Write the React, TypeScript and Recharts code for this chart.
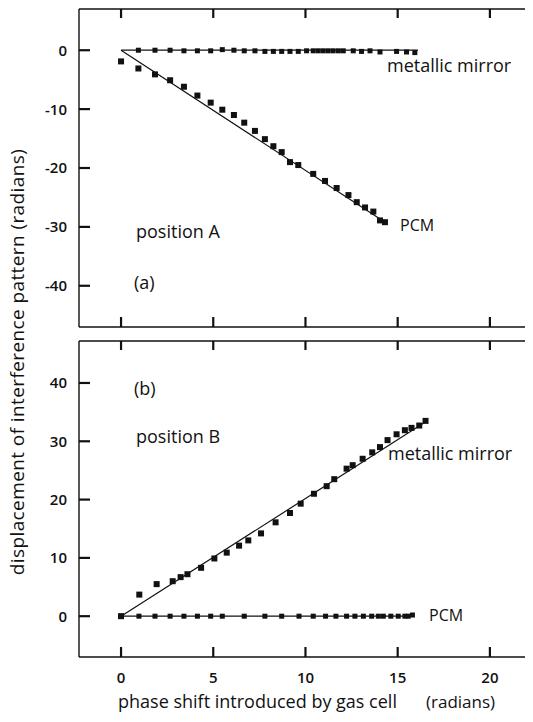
import React from 'react'
import { ComposedChart, Scatter, XAxis, YAxis, ReferenceLine } from 'recharts'

// x axis (phase shift, radians)
const X_DOMAIN: [number, number] = [-2.28, 22.5]
const X_TICKS = [0, 5, 10, 15, 20]
const TOP_Y_DOMAIN: [number, number] = [-47, 7]
const TOP_Y_TICKS = [0, -10, -20, -30, -40]
const BOT_Y_DOMAIN: [number, number] = [-7, 47.2]
const BOT_Y_TICKS = [0, 10, 20, 30, 40]

// (a) position A
const A_MIRROR_X = [0.94, 1.84, 2.66, 3.41, 4.14, 4.86, 5.49, 6.12, 6.68, 7.26, 7.8, 8.26, 8.71, 9.16, 9.61, 10.06, 10.42, 10.69, 10.96, 11.23, 11.5, 11.78, 12.05, 12.59, 13.04, 13.5, 14.04, 14.94, 15.48, 15.93]
const A_MIRROR_Y = [0, 0, 0, -0.1, -0.1, -0.1, 0.1, 0, -0.1, -0.1, -0.2, -0.2, -0.2, -0.2, -0.2, -0.1, -0.1, -0.1, -0.1, -0.1, -0.1, -0.1, -0.1, -0.1, -0.2, -0.1, -0.3, -0.2, -0.3, -0.4]
const A_PCM_X = [0, 0.94, 1.84, 2.66, 3.41, 4.14, 4.86, 5.49, 6.12, 6.68, 7.26, 7.8, 8.26, 8.71, 9.16, 9.61, 10.42, 11.06, 11.69, 12.33, 12.78, 13.23, 13.68, 14.04, 14.31]
const A_PCM_Y = [-1.9, -3.1, -4.1, -5.1, -6.2, -7.7, -8.9, -10.1, -11.0, -12.3, -13.7, -15.1, -16.3, -17.3, -19.0, -19.5, -21.0, -22.2, -23.4, -24.6, -25.8, -26.7, -27.4, -28.9, -29.2]
const A_MIRROR_FIT_X = [0, 16.1]
const A_MIRROR_FIT_Y = [0, 0]
const A_PCM_FIT_X = [0, 14.4]
const A_PCM_FIT_Y = [0, -29.4]

// (b) position B
const B_MIRROR_X = [0, 0.99, 1.93, 2.8, 3.23, 3.6, 4.34, 5.06, 5.73, 6.4, 6.9, 7.59, 8.38, 9.16, 9.74, 10.46, 11.15, 11.56, 12.23, 12.56, 13.1, 13.62, 14.04, 14.45, 14.94, 15.39, 15.75, 16.17, 16.51]
const B_MIRROR_Y = [0, 3.7, 5.5, 6.0, 6.7, 7.2, 8.3, 9.9, 10.9, 12.1, 13.0, 14.2, 16.1, 17.7, 19.3, 21.0, 22.3, 23.5, 25.3, 25.9, 27.0, 28.1, 29.0, 30.2, 31.2, 31.9, 32.3, 32.7, 33.5]
const B_PCM_X = [0, 0.97, 1.84, 2.66, 3.41, 4.14, 4.86, 5.49, 6.68, 7.8, 8.71, 9.65, 10.42, 11.09, 11.65, 12.23, 12.68, 13.14, 13.59, 13.95, 14.22, 14.63, 15.03, 15.39, 15.57, 15.8]
const B_PCM_Y = [0, 0, 0, 0, 0, 0, 0, 0, 0, 0, 0, 0, 0, 0, 0, 0, 0, 0, 0, 0, 0, 0, 0, 0, 0, 0.2]
const B_MIRROR_FIT_X = [0, 16.5]
const B_MIRROR_FIT_Y = [0, 33.3]
const B_PCM_FIT_X = [0, 15.8]
const B_PCM_FIT_Y = [0, 0]

const zip = (xs: number[], ys: number[]) => xs.map((x, i) => ({ x, y: ys[i] }))

const FONT = '"Open Sans", sans-serif'
const INK = '#111'
const PLOT_W = 457

const square = (size: number) => (props: any) => {
  const { cx, cy } = props
  if (cx == null || cy == null) return <g />
  return <rect x={cx - size / 2} y={cy - size / 2} width={size} height={size} fill={INK} />
}
const noDot = () => <g />

const labelStyle = { fontFamily: FONT, fontSize: 15, fontWeight: 600, fill: INK }
const leftLabel = (props: any) => (
  <text x={props.x - 12} y={props.y} dy="0.36em" textAnchor="end" style={labelStyle}>{props.payload.value}</text>
)
const bottomLabel = (props: any) => (
  <text x={props.x} y={props.y + 26} textAnchor="middle" style={labelStyle}>{props.payload.value}</text>
)

interface PanelProps {
  top: number
  height: number
  topAxisH: number
  bottomAxisH: number
  yDomain: [number, number]
  yTicks: number[]
  xLabels: boolean
  points: { x: number; y: number }[][]
  pointSizes: number[]
  fits: { x: number; y: number }[][]
}

const Panel = ({ top, height, topAxisH, bottomAxisH, yDomain, yTicks, xLabels, points, pointSizes, fits }: PanelProps) => {
  const axisStroke = { stroke: INK, strokeWidth: 1.4 }
  // inward tick marks as short segments from the frame, lengths given in pixels
  const ux = (X_DOMAIN[1] - X_DOMAIN[0]) / PLOT_W
  const uy = (yDomain[1] - yDomain[0]) / (height - topAxisH - bottomAxisH)
  const segs: { x: number; y: number }[][] = [
    ...yTicks.map(y => [{ x: X_DOMAIN[0], y }, { x: X_DOMAIN[0] + 11 * ux, y }]),
    ...yTicks.map(y => [{ x: X_DOMAIN[1], y }, { x: X_DOMAIN[1] - 8 * ux, y }]),
    ...X_TICKS.map(x => [{ x, y: yDomain[1] }, { x, y: yDomain[1] - 9 * uy }]),
    ...X_TICKS.map(x => [{ x, y: yDomain[0] }, { x, y: yDomain[0] + 10 * uy }]),
  ]
  return (
    <div style={{ position: 'absolute', left: 0, top }}>
      <ComposedChart width={540} height={height} margin={{ top: 0, right: 0, bottom: 0, left: 0 }}>
        <XAxis xAxisId="t" orientation="top" type="number" dataKey="x" domain={X_DOMAIN} ticks={X_TICKS}
          allowDataOverflow height={topAxisH} axisLine={axisStroke} tickLine={false} tick={false} />
        <XAxis xAxisId="b" orientation="bottom" type="number" dataKey="x" domain={X_DOMAIN} ticks={X_TICKS}
          allowDataOverflow height={bottomAxisH} tickSize={0} tickMargin={0} axisLine={axisStroke} tickLine={false}
          tick={xLabels ? bottomLabel : false} />
        <YAxis yAxisId="l" orientation="left" type="number" dataKey="y" domain={yDomain} ticks={yTicks}
          allowDataOverflow width={79} tickSize={0} tickMargin={0} axisLine={axisStroke} tickLine={false} tick={leftLabel} />
        <YAxis yAxisId="r" orientation="right" type="number" dataKey="y" domain={yDomain} ticks={yTicks}
          allowDataOverflow width={4} axisLine={axisStroke} tickLine={false} tick={false} />
        {segs.map((s, i) => (
          <ReferenceLine key={'t' + i} xAxisId="b" yAxisId="l" segment={s} stroke={INK} strokeWidth={2.2} ifOverflow="visible" />
        ))}
        {fits.map((f, i) => (
          <Scatter key={'f' + i} data={f} xAxisId="b" yAxisId="l" line={{ stroke: INK, strokeWidth: 1.2 }}
            shape={noDot} isAnimationActive={false} />
        ))}
        {points.map((p, i) => (
          <Scatter key={'p' + i} data={p} xAxisId="b" yAxisId="l" shape={square(pointSizes[i])} isAnimationActive={false} />
        ))}
      </ComposedChart>
    </div>
  )
}

const notes = [
  { text: 'metallic mirror', left: 387, top: 54, size: 18 },
  { text: 'PCM', left: 400, top: 215, size: 16 },
  { text: 'position A', left: 136, top: 220, size: 18 },
  { text: '(a)', left: 134, top: 271, size: 18 },
  { text: '(b)', left: 134, top: 377, size: 18 },
  { text: 'position B', left: 136, top: 425, size: 18 },
  { text: 'metallic mirror', left: 388, top: 442, size: 18 },
  { text: 'PCM', left: 429, top: 605, size: 16 },
]

export default function App() {
  return (
    <div style={{ position: 'relative', width: 533, height: 722, overflow: 'hidden', margin: -8, background: '#fff', fontFamily: FONT, color: INK }}>
      <Panel top={0} height={340} topAxisH={9} bottomAxisH={13} yDomain={TOP_Y_DOMAIN} yTicks={TOP_Y_TICKS} xLabels={false}
        points={[zip(A_MIRROR_X, A_MIRROR_Y), zip(A_PCM_X, A_PCM_Y)]} pointSizes={[5, 6]}
        fits={[zip(A_MIRROR_FIT_X, A_MIRROR_FIT_Y), zip(A_PCM_FIT_X, A_PCM_FIT_Y)]} />
      <Panel top={330} height={392} topAxisH={11} bottomAxisH={65} yDomain={BOT_Y_DOMAIN} yTicks={BOT_Y_TICKS} xLabels
        points={[zip(B_MIRROR_X, B_MIRROR_Y), zip(B_PCM_X, B_PCM_Y)]} pointSizes={[6, 5]}
        fits={[zip(B_MIRROR_FIT_X, B_MIRROR_FIT_Y), zip(B_PCM_FIT_X, B_PCM_FIT_Y)]} />
      {notes.map((n, i) => (
        <div key={i} style={{ position: 'absolute', left: n.left, top: n.top, fontSize: n.size, lineHeight: 1.3, whiteSpace: 'nowrap' }}>
          {n.text}
        </div>
      ))}
      <div style={{ position: 'absolute', left: 118, top: 690, fontSize: 18, lineHeight: 1.3, whiteSpace: 'nowrap' }}>
        phase shift introduced by gas cell
      </div>
      <div style={{ position: 'absolute', left: 426, top: 691, fontSize: 17, lineHeight: 1.3, whiteSpace: 'nowrap' }}>
        (radians)
      </div>
      <div style={{ position: 'absolute', left: 17, top: 362, transform: 'translate(-50%, -50%) rotate(-90deg)', fontSize: 19, letterSpacing: 0.4, lineHeight: 1.3, whiteSpace: 'nowrap' }}>
        displacement of interference pattern (radians)
      </div>
    </div>
  )
}
